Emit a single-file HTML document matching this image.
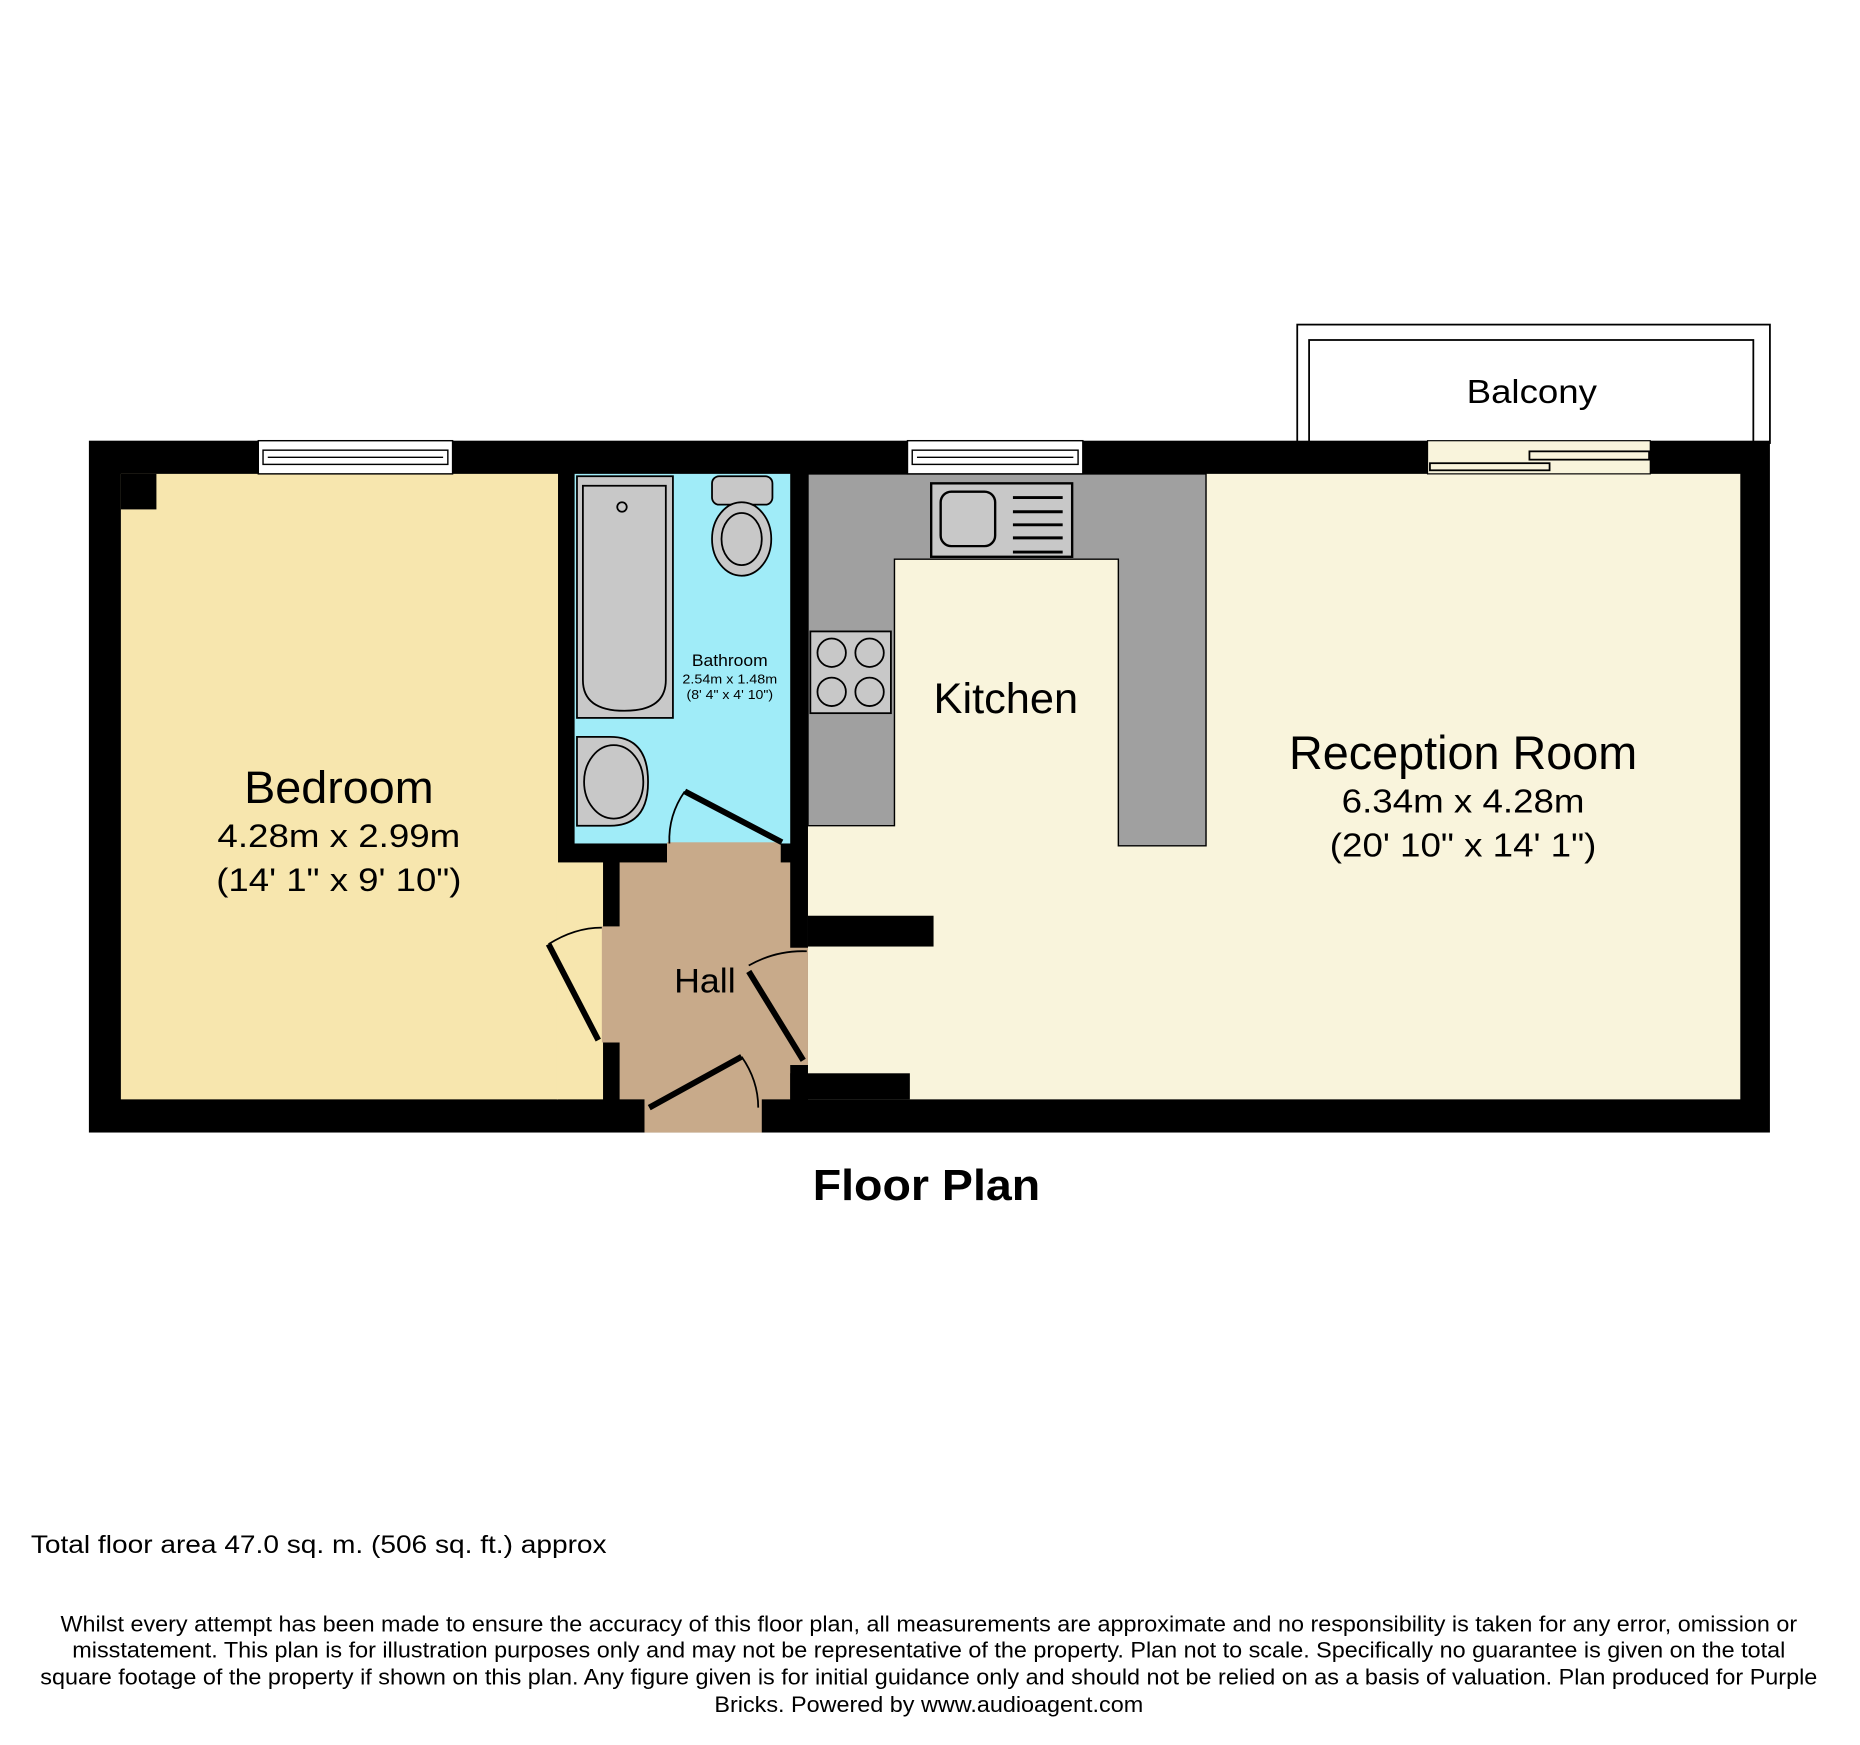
<!DOCTYPE html>
<html><head><meta charset="utf-8"><style>
html,body{margin:0;padding:0;background:#fff;}
svg{display:block;}
text{font-family:"Liberation Sans",Arial,sans-serif;fill:#000;}
</style></head><body>
<svg width="1860" height="1745" viewBox="0 0 1570 1473" xmlns="http://www.w3.org/2000/svg">
<rect width="1570" height="1473" fill="#fff"/>
<!-- balcony -->
<rect x="1095" y="274" width="399" height="100" fill="#fff" stroke="#000" stroke-width="1.5"/>
<rect x="1105" y="287" width="375" height="87" fill="#fff" stroke="#000" stroke-width="1.5"/>
<text x="1293" y="340" font-size="28" text-anchor="middle" textLength="110" lengthAdjust="spacingAndGlyphs">Balcony</text>
<!-- outer walls -->
<rect x="75" y="372" width="1419" height="584" fill="#000"/>
<!-- bedroom -->
<rect x="102" y="400" width="369" height="528" fill="#f7e6ae"/>
<rect x="470" y="728" width="39" height="200" fill="#f7e6ae"/>
<rect x="102" y="400" width="30" height="30" fill="#000"/>
<!-- bathroom -->
<rect x="485" y="400" width="182" height="312" fill="#a0ecf8"/>
<!-- hall -->
<rect x="523" y="728" width="144" height="200" fill="#c8aa8a"/>
<rect x="563" y="711" width="96" height="18" fill="#c8aa8a"/>
<rect x="508" y="782" width="16" height="98" fill="#c8aa8a"/>
<rect x="666" y="800" width="16" height="99" fill="#c8aa8a"/>
<rect x="544" y="926" width="99" height="30" fill="#c8aa8a"/>
<!-- kitchen/reception -->
<rect x="682" y="400" width="787" height="528" fill="#f9f4dc"/>
<rect x="682" y="773" width="106" height="26" fill="#000"/>
<rect x="667" y="906" width="101" height="22" fill="#000"/>
<!-- counters -->
<path d="M682 400 H1018 V714 H944 V472 H755 V697 H682 Z" fill="#a0a0a0" stroke="#000" stroke-width="1.2"/>
<rect x="786" y="408" width="119" height="62" fill="#c8c8c8" stroke="#000" stroke-width="2"/>
<rect x="794" y="415" width="46" height="46" rx="9" fill="#c8c8c8" stroke="#000" stroke-width="2"/>
<g stroke="#000" stroke-width="2.5"><line x1="855" y1="420" x2="897" y2="420"/><line x1="855" y1="432" x2="897" y2="432"/><line x1="855" y1="443" x2="897" y2="443"/><line x1="855" y1="454" x2="897" y2="454"/><line x1="855" y1="466" x2="897" y2="466"/></g>
<rect x="684" y="533" width="68" height="69" fill="#c8c8c8" stroke="#000" stroke-width="1.5"/>
<g fill="#c8c8c8" stroke="#000" stroke-width="1.5"><circle cx="702" cy="551" r="12"/><circle cx="734" cy="551" r="12"/><circle cx="702" cy="584" r="12"/><circle cx="734" cy="584" r="12"/></g>
<!-- windows -->
<g fill="#fff" stroke="#000" stroke-width="1.2">
<rect x="218" y="372" width="164" height="28"/><rect x="222" y="380" width="156" height="12"/><line x1="226" y1="386" x2="374" y2="386"/>
<rect x="766" y="372" width="148" height="28"/><rect x="770" y="380" width="140" height="12"/><line x1="774" y1="386" x2="906" y2="386"/>
</g>
<rect x="1205" y="372" width="188" height="28" fill="#f9f4dc" stroke="#000" stroke-width="1"/>
<rect x="1207" y="391" width="101" height="6" fill="#f9f4dc" stroke="#000" stroke-width="1.5"/>
<rect x="1291" y="381" width="101" height="7" fill="#f9f4dc" stroke="#000" stroke-width="1.5"/>
<!-- bath fixtures -->
<rect x="487" y="402" width="81" height="204" fill="#c8c8c8" stroke="#000" stroke-width="1.5"/>
<path d="M492 410 H562 V574 Q562 600 527 600 Q492 600 492 574 Z" fill="#c8c8c8" stroke="#000" stroke-width="1.5"/>
<circle cx="525" cy="428" r="4" fill="none" stroke="#000" stroke-width="1.5"/>
<rect x="601" y="402" width="51" height="24" rx="6" fill="#c8c8c8" stroke="#000" stroke-width="1.5"/>
<ellipse cx="626" cy="455" rx="25" ry="31" fill="#c8c8c8" stroke="#000" stroke-width="1.5"/>
<ellipse cx="626" cy="455" rx="17" ry="22" fill="#c8c8c8" stroke="#000" stroke-width="1.5"/>
<path d="M487 622 H515 Q547 622 547 660 Q547 697 515 697 H487 Z" fill="#c8c8c8" stroke="#000" stroke-width="1.5"/>
<ellipse cx="518" cy="660" rx="25" ry="31" fill="#c8c8c8" stroke="#000" stroke-width="1.5"/>
<!-- doors -->
<g stroke="#000" fill="none">
<line x1="578" y1="668" x2="660" y2="711" stroke-width="5"/>
<path d="M578 668 Q564 688 565 712" stroke-width="1.5"/>
<line x1="505" y1="878" x2="463" y2="797" stroke-width="5"/>
<path d="M463 797 Q485 783 508 783" stroke-width="1.5"/>
<line x1="678" y1="895" x2="632" y2="820" stroke-width="5"/>
<path d="M632 815 Q655 802 681 803" stroke-width="1.5"/>
<line x1="548" y1="935" x2="626" y2="892" stroke-width="5"/>
<path d="M626 892 Q640 912 640 935" stroke-width="1.5"/>
</g>
<!-- labels -->
<text x="286" y="678" font-size="38" text-anchor="middle" textLength="160" lengthAdjust="spacingAndGlyphs">Bedroom</text>
<text x="286" y="715" font-size="27" text-anchor="middle" textLength="205" lengthAdjust="spacingAndGlyphs">4.28m x 2.99m</text>
<text x="286" y="752" font-size="27" text-anchor="middle" textLength="207" lengthAdjust="spacingAndGlyphs">(14' 1" x 9' 10")</text>
<text x="616" y="562" font-size="14" text-anchor="middle" textLength="64" lengthAdjust="spacingAndGlyphs">Bathroom</text>
<text x="616" y="577" font-size="11" text-anchor="middle" textLength="80" lengthAdjust="spacingAndGlyphs">2.54m x 1.48m</text>
<text x="616" y="590" font-size="11" text-anchor="middle" textLength="73" lengthAdjust="spacingAndGlyphs">(8' 4" x 4' 10")</text>
<text x="849" y="602" font-size="36" text-anchor="middle" textLength="122" lengthAdjust="spacingAndGlyphs">Kitchen</text>
<text x="1235" y="649" font-size="40" text-anchor="middle" textLength="294" lengthAdjust="spacingAndGlyphs">Reception Room</text>
<text x="1235" y="686" font-size="28" text-anchor="middle" textLength="205" lengthAdjust="spacingAndGlyphs">6.34m x 4.28m</text>
<text x="1235" y="723" font-size="28" text-anchor="middle" textLength="225" lengthAdjust="spacingAndGlyphs">(20' 10" x 14' 1")</text>
<text x="595" y="838" font-size="29" text-anchor="middle" textLength="52" lengthAdjust="spacingAndGlyphs">Hall</text>
<text x="782" y="1013" font-size="37" font-weight="bold" text-anchor="middle" textLength="192" lengthAdjust="spacingAndGlyphs">Floor Plan</text>
<text x="26" y="1311" font-size="21" textLength="486" lengthAdjust="spacingAndGlyphs">Total floor area 47.0 sq. m. (506 sq. ft.) approx</text>
<g font-size="18.5" text-anchor="middle">
<text x="784" y="1377" textLength="1466" lengthAdjust="spacingAndGlyphs">Whilst every attempt has been made to ensure the accuracy of this floor plan, all measurements are approximate and no responsibility is taken for any error, omission or</text>
<text x="784" y="1399" textLength="1446" lengthAdjust="spacingAndGlyphs">misstatement. This plan is for illustration purposes only and may not be representative of the property. Plan not to scale. Specifically no guarantee is given on the total</text>
<text x="784" y="1422" textLength="1500" lengthAdjust="spacingAndGlyphs">square footage of the property if shown on this plan. Any figure given is for initial guidance only and should not be relied on as a basis of valuation. Plan produced for Purple</text>
<text x="784" y="1445" textLength="362" lengthAdjust="spacingAndGlyphs">Bricks. Powered by www.audioagent.com</text>
</g>
</svg>
</body></html>
